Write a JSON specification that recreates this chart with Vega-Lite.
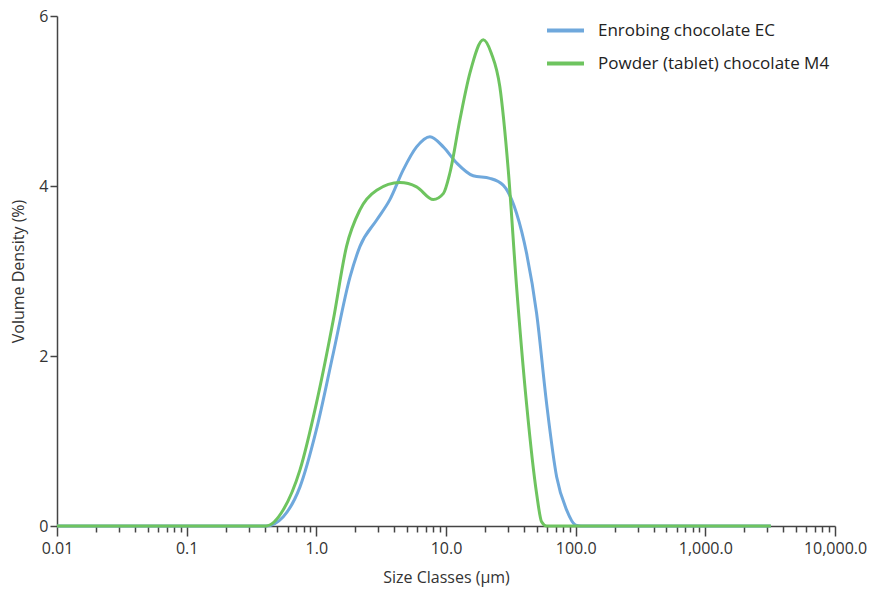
{
  "$schema": "https://vega.github.io/schema/vega-lite/v6.json",
  "autosize": "none",
  "width": 778,
  "height": 510,
  "padding": {"left": 57, "top": 16, "right": 34, "bottom": 66},
  "background": "white",
  "config": {
    "view": {"stroke": null},
    "font": "Open Sans",
    "axis": {"domainColor": "#444", "tickColor": "#444", "labelColor": "#333", "titleColor": "#333", "labelFont": "Open Sans", "titleFont": "Open Sans", "titleFontWeight": "normal", "grid": false}
  },
  "data": {"values": [
    {"s": "Enrobing chocolate EC", "x": 0.01, "y": 0},
    {"s": "Enrobing chocolate EC", "x": 0.41, "y": 0},
    {"s": "Enrobing chocolate EC", "x": 0.556, "y": 0.11},
    {"s": "Enrobing chocolate EC", "x": 0.748, "y": 0.46},
    {"s": "Enrobing chocolate EC", "x": 1.0, "y": 1.13},
    {"s": "Enrobing chocolate EC", "x": 1.35, "y": 2.03},
    {"s": "Enrobing chocolate EC", "x": 1.82, "y": 2.93},
    {"s": "Enrobing chocolate EC", "x": 2.17, "y": 3.29},
    {"s": "Enrobing chocolate EC", "x": 2.92, "y": 3.6},
    {"s": "Enrobing chocolate EC", "x": 3.69, "y": 3.84},
    {"s": "Enrobing chocolate EC", "x": 4.68, "y": 4.19},
    {"s": "Enrobing chocolate EC", "x": 5.93, "y": 4.46},
    {"s": "Enrobing chocolate EC", "x": 7.52, "y": 4.58},
    {"s": "Enrobing chocolate EC", "x": 9.53, "y": 4.46},
    {"s": "Enrobing chocolate EC", "x": 12.1, "y": 4.27},
    {"s": "Enrobing chocolate EC", "x": 16.2, "y": 4.12},
    {"s": "Enrobing chocolate EC", "x": 21.8, "y": 4.09},
    {"s": "Enrobing chocolate EC", "x": 27.6, "y": 4.01},
    {"s": "Enrobing chocolate EC", "x": 35.0, "y": 3.68},
    {"s": "Enrobing chocolate EC", "x": 41.8, "y": 3.21},
    {"s": "Enrobing chocolate EC", "x": 50.0, "y": 2.5},
    {"s": "Enrobing chocolate EC", "x": 59.7, "y": 1.44},
    {"s": "Enrobing chocolate EC", "x": 71.3, "y": 0.58},
    {"s": "Enrobing chocolate EC", "x": 85.1, "y": 0.19},
    {"s": "Enrobing chocolate EC", "x": 100, "y": 0.01},
    {"s": "Enrobing chocolate EC", "x": 110, "y": 0},
    {"s": "Enrobing chocolate EC", "x": 3200, "y": 0},
    {"s": "Powder (tablet) chocolate M4", "x": 0.01, "y": 0},
    {"s": "Powder (tablet) chocolate M4", "x": 0.41, "y": 0},
    {"s": "Powder (tablet) chocolate M4", "x": 0.556, "y": 0.19},
    {"s": "Powder (tablet) chocolate M4", "x": 0.748, "y": 0.66},
    {"s": "Powder (tablet) chocolate M4", "x": 1.0, "y": 1.44},
    {"s": "Powder (tablet) chocolate M4", "x": 1.35, "y": 2.42},
    {"s": "Powder (tablet) chocolate M4", "x": 1.71, "y": 3.29},
    {"s": "Powder (tablet) chocolate M4", "x": 2.17, "y": 3.72},
    {"s": "Powder (tablet) chocolate M4", "x": 2.92, "y": 3.95},
    {"s": "Powder (tablet) chocolate M4", "x": 4.41, "y": 4.04},
    {"s": "Powder (tablet) chocolate M4", "x": 5.93, "y": 3.99},
    {"s": "Powder (tablet) chocolate M4", "x": 7.98, "y": 3.84},
    {"s": "Powder (tablet) chocolate M4", "x": 9.53, "y": 3.91},
    {"s": "Powder (tablet) chocolate M4", "x": 10.7, "y": 4.15},
    {"s": "Powder (tablet) chocolate M4", "x": 12.8, "y": 4.78},
    {"s": "Powder (tablet) chocolate M4", "x": 15.3, "y": 5.33},
    {"s": "Powder (tablet) chocolate M4", "x": 19.4, "y": 5.72},
    {"s": "Powder (tablet) chocolate M4", "x": 22.4, "y": 5.56},
    {"s": "Powder (tablet) chocolate M4", "x": 26.0, "y": 5.17},
    {"s": "Powder (tablet) chocolate M4", "x": 30.2, "y": 4.19},
    {"s": "Powder (tablet) chocolate M4", "x": 35.0, "y": 2.82},
    {"s": "Powder (tablet) chocolate M4", "x": 41.8, "y": 1.44},
    {"s": "Powder (tablet) chocolate M4", "x": 50.0, "y": 0.38},
    {"s": "Powder (tablet) chocolate M4", "x": 54.6, "y": 0.05},
    {"s": "Powder (tablet) chocolate M4", "x": 59.7, "y": 0},
    {"s": "Powder (tablet) chocolate M4", "x": 3200, "y": 0}
  ]},
  "mark": {"type": "line", "interpolate": "monotone", "strokeWidth": 3, "clip": false},
  "encoding": {
    "x": {
      "field": "x", "type": "quantitative",
      "scale": {"type": "log", "domain": [0.01, 10000], "nice": false},
      "axis": {
        "title": "Size Classes (µm)",
        "titleFontSize": 16, "titlePadding": 13,
        "labelFontSize": 16, "labelPadding": 4, "labelOverlap": false, "labelFlush": false,
        "values": [0.01,0.02,0.03,0.04,0.05,0.06,0.07,0.08,0.09,0.1,0.2,0.3,0.4,0.5,0.6,0.7,0.8,0.9,1,2,3,4,5,6,7,8,9,10,20,30,40,50,60,70,80,90,100,200,300,400,500,600,700,800,900,1000,2000,3000,4000,5000,6000,7000,8000,9000,10000],
        "labelExpr": "datum.value == 0.01 ? '0.01' : (abs(datum.value - 0.1) < 1e-9 ? '0.1' : (abs(log(datum.value)/LN10 - round(log(datum.value)/LN10)) < 1e-6 ? format(datum.value, ',.1f') : ''))",
        "tickSize": {"condition": {"test": "abs(log(datum.value)/LN10 - round(log(datum.value)/LN10)) < 1e-6", "value": 10}, "value": 6},
        "tickWidth": 1.5, "domainWidth": 1.5
      }
    },
    "y": {
      "field": "y", "type": "quantitative",
      "scale": {"domain": [0, 6], "nice": false},
      "axis": {"title": "Volume Density (%)", "values": [0, 2, 4, 6], "tickSize": 7, "tickWidth": 1.5, "domainWidth": 1.5, "labelFontSize": 16, "labelPadding": 2, "titleFontSize": 16, "titlePadding": 12}
    },
    "color": {
      "field": "s", "type": "nominal",
      "scale": {"domain": ["Enrobing chocolate EC", "Powder (tablet) chocolate M4"], "range": ["#6fa8dc", "#6ec45f"]},
      "legend": {"title": null, "orient": "none", "legendX": 488, "legendY": -6, "symbolType": "stroke", "symbolSize": 1369, "symbolStrokeWidth": 4, "labelFontSize": 17, "labelColor": "#222", "labelOffset": 12, "labelLimit": 400, "rowPadding": 4, "labelFont": "Open Sans"}
    }
  }
}
